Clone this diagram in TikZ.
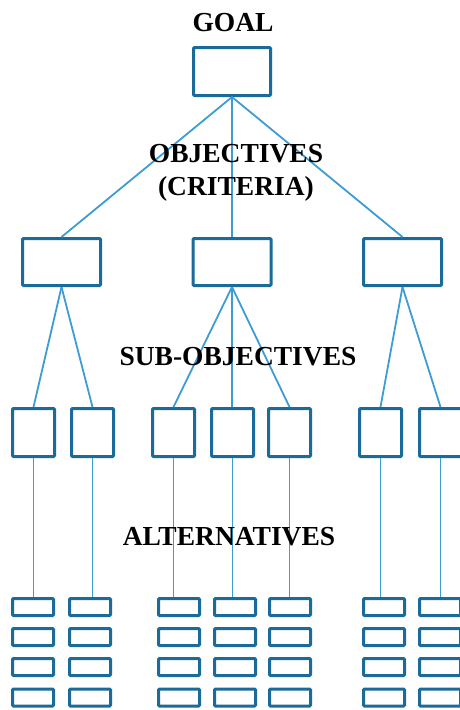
\documentclass[tikz,border=0pt]{standalone}
\usepackage{fontspec}
\setmainfont{Liberation Serif}
\definecolor{boxcol}{HTML}{1B6B9A}
\definecolor{linecol}{HTML}{3D9CD4}
\begin{document}
\begin{tikzpicture}[x=1pt,y=-1pt,
  box/.style={draw=boxcol, line width=3pt, rounded corners=1pt, inner sep=0pt, fill=white},
  goalbox/.style={box, minimum width=77pt, minimum height=48pt},
  objbox/.style={box, minimum width=78pt, minimum height=47pt},
  subbox/.style={box, minimum width=42pt, minimum height=48pt},
  altbox/.style={box, minimum width=41pt, minimum height=17pt},
  conn/.style={draw=linecol, line width=1.8pt},
  lbl/.style={font=\fontsize{27.5}{33}\selectfont\bfseries, inner sep=0pt, anchor=base, align=center, text=black}]
\useasboundingbox (0,0) rectangle (459,710);
% boxes
\node[goalbox] (goal) at (232,71.5) {};
\node[objbox] (o1) at (61.5,262) {};
\node[objbox] (o2) at (232,262) {};
\node[objbox] (o3) at (402.5,262) {};
\foreach \n/\x in {1/33.5,2/92.5,3/173.5,4/232.5,5/289.5,6/380.5,7/440.5}
  \node[subbox] (s\n) at (\x,432.5) {};
\foreach \n/\x in {1/33,2/90,3/179,4/235,5/290,6/384,7/440}
  \foreach \r/\y in {1/607,2/637,3/667,4/697.5}
    \node[altbox] (a\n\r) at (\x,\y) {};
% connectors
\draw[conn] (goal.south) -- (o1.north);
\draw[conn] (goal.south) -- (o2.north);
\draw[conn] (goal.south) -- (o3.north);
\draw[conn] (o1.south) -- (s1.north);
\draw[conn] (o1.south) -- (s2.north);
\draw[conn] (o2.south) -- (s3.north);
\draw[conn] (o2.south) -- (o2.south |- s4.north);
\draw[conn] (o2.south) -- (s5.north);
\draw[conn] (o3.south) -- (s6.north);
\draw[conn] (o3.south) -- (s7.north);
\foreach \n in {1,...,7}
  \draw[conn] (s\n.south) -- (s\n.south |- a\n1.north);
% labels
\node[lbl] (tgoal) at (233,31) {GOAL};
\node[lbl] (tobj) at (236,195) {OBJECTIVES\\(CRITERIA)};
\node[lbl] (tsub) at (238,365) {SUB-OBJECTIVES};
\node[lbl] (talt) at (229,545) {ALTERNATIVES};
\end{tikzpicture}
\end{document}
